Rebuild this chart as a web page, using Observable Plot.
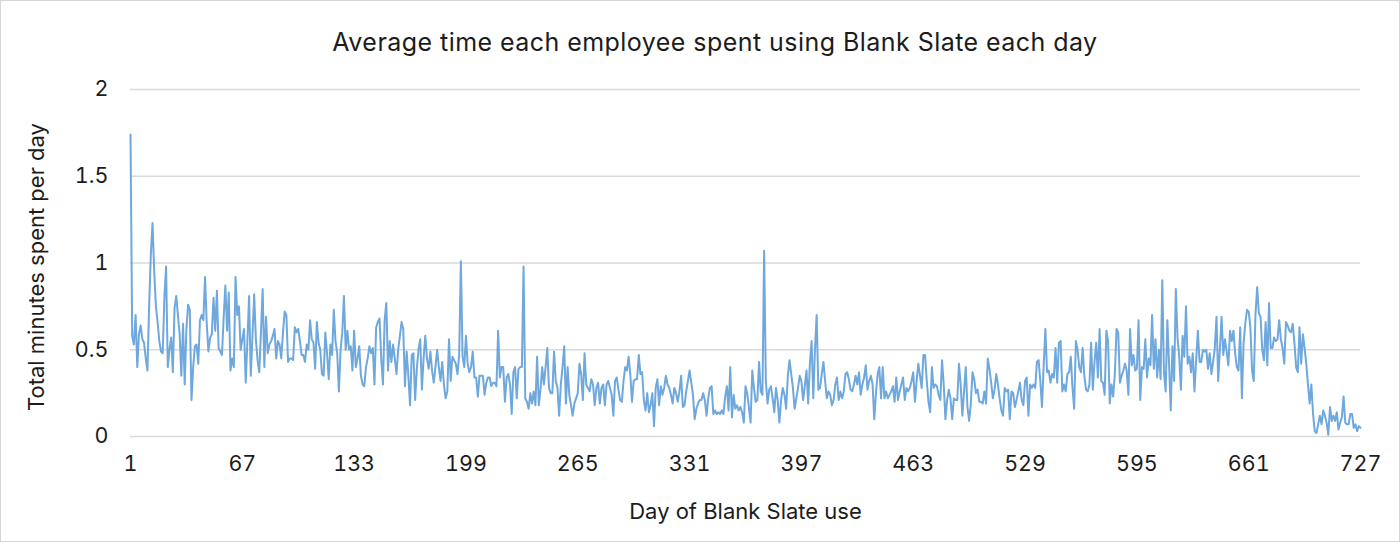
<!DOCTYPE html>
<html>
<head>
<meta charset="utf-8">
<script src="https://cdn.jsdelivr.net/npm/d3@7"></script>
<script src="https://cdn.jsdelivr.net/npm/@observablehq/plot@0.6"></script>
<style>
  html, body { margin: 0; padding: 0; background: #fff; }
  #chart { position: relative; width: 1400px; height: 542px; box-sizing: border-box; border: 1px solid #d6d6d6; background: #fff; overflow: hidden; font-family: Inter, "Noto Sans", sans-serif; }
  #title { position: absolute; top: 27px; left: 0; width: 1398px; box-sizing: border-box; padding-left: 30px; text-align: center; font-size: 25px; letter-spacing: 0.45px; line-height: 28px; color: #1c1c1c; white-space: nowrap; }
  #plot { position: absolute; top: 70px; left: 0; }
</style>
</head>
<body>
<div id="chart">
  <div id="title"></div>
  <div id="plot"></div>
</div>
<script>
const chartTitle = "Average time each employee spent using Blank Slate each day";
const xLabel = "Day of Blank Slate use";
const yLabel = "Total minutes spent per day";
const xTicks = [1, 67, 133, 199, 265, 331, 397, 463, 529, 595, 661, 727];
const yTicks = [0, 0.5, 1, 1.5, 2];

// Days 1–121
const minutesDays1to121 = [
  1.74,0.58,0.53,0.70,0.40,0.59,0.64,0.56,0.54,0.45,
  0.38,0.75,1.05,1.23,0.95,0.75,0.66,0.55,0.49,0.48,
  0.80,0.98,0.40,0.50,0.57,0.37,0.74,0.81,0.70,0.59,
  0.35,0.65,0.30,0.62,0.76,0.73,0.21,0.40,0.52,0.53,
  0.42,0.67,0.70,0.67,0.92,0.65,0.49,0.57,0.59,0.80,
  0.61,0.84,0.51,0.49,0.47,0.69,0.87,0.61,0.83,0.38,
  0.45,0.40,0.92,0.70,0.75,0.50,0.56,0.62,0.31,0.55,
  0.81,0.35,0.58,0.82,0.56,0.44,0.37,0.60,0.85,0.40,
  0.69,0.48,0.53,0.55,0.58,0.62,0.45,0.55,0.53,0.45,
  0.60,0.72,0.70,0.43,0.45,0.45,0.44,0.63,0.60,0.62,
  0.55,0.47,0.47,0.43,0.53,0.50,0.67,0.56,0.54,0.39,
  0.66,0.54,0.50,0.36,0.35,0.60,0.48,0.33,0.53,0.47,
  0.73
];
// Days 122–241
const minutesDays122to241 = [
  0.55,0.48,0.26,0.50,0.60,0.81,0.50,0.61,0.50,0.52,
  0.38,0.61,0.40,0.45,0.52,0.35,0.30,0.29,0.40,0.45,
  0.52,0.48,0.51,0.30,0.63,0.66,0.68,0.45,0.30,0.67,
  0.77,0.38,0.55,0.43,0.53,0.45,0.36,0.50,0.58,0.66,
  0.62,0.29,0.49,0.35,0.18,0.47,0.48,0.21,0.39,0.50,
  0.56,0.27,0.45,0.58,0.45,0.39,0.49,0.38,0.31,0.40,
  0.50,0.40,0.32,0.43,0.30,0.22,0.26,0.56,0.32,0.46,
  0.44,0.42,0.36,0.47,1.01,0.46,0.40,0.58,0.42,0.37,
  0.40,0.49,0.34,0.34,0.23,0.35,0.35,0.35,0.24,0.31,
  0.34,0.34,0.29,0.31,0.31,0.29,0.61,0.34,0.40,0.40,
  0.20,0.34,0.36,0.30,0.13,0.37,0.40,0.22,0.39,0.40,
  0.40,0.98,0.22,0.20,0.16,0.25,0.19,0.26,0.18,0.46
];
// Days 242–364
const minutesDays242to364 = [
  0.18,0.27,0.40,0.30,0.40,0.51,0.28,0.25,0.25,0.49,
  0.32,0.28,0.12,0.30,0.40,0.52,0.19,0.40,0.24,0.18,
  0.12,0.19,0.22,0.25,0.42,0.36,0.21,0.48,0.30,0.28,
  0.26,0.33,0.30,0.18,0.28,0.31,0.19,0.28,0.30,0.18,
  0.30,0.32,0.28,0.24,0.12,0.32,0.34,0.27,0.21,0.20,
  0.32,0.40,0.38,0.46,0.36,0.20,0.32,0.33,0.33,0.47,
  0.36,0.37,0.21,0.15,0.25,0.14,0.18,0.25,0.06,0.28,
  0.33,0.18,0.29,0.24,0.28,0.35,0.30,0.28,0.24,0.19,
  0.28,0.25,0.20,0.26,0.35,0.17,0.18,0.26,0.32,0.38,
  0.31,0.24,0.10,0.16,0.19,0.21,0.21,0.25,0.21,0.12,
  0.22,0.28,0.29,0.13,0.15,0.13,0.14,0.13,0.15,0.13,
  0.23,0.29,0.15,0.40,0.11,0.24,0.16,0.18,0.15,0.17,
  0.14,0.08,0.29
];
// Days 365–484
const minutesDays365to484 = [
  0.25,0.17,0.08,0.38,0.28,0.20,0.21,0.43,0.26,0.24,
  1.07,0.32,0.19,0.27,0.29,0.22,0.14,0.28,0.21,0.08,
  0.21,0.28,0.24,0.16,0.35,0.44,0.36,0.28,0.16,0.22,
  0.28,0.35,0.32,0.21,0.29,0.38,0.19,0.42,0.55,0.22,
  0.50,0.70,0.27,0.28,0.36,0.43,0.32,0.22,0.26,0.24,
  0.18,0.21,0.30,0.34,0.21,0.26,0.22,0.26,0.36,0.37,
  0.33,0.27,0.26,0.30,0.35,0.30,0.37,0.24,0.30,0.34,
  0.41,0.27,0.32,0.35,0.30,0.10,0.25,0.36,0.40,0.22,
  0.40,0.22,0.26,0.22,0.24,0.26,0.29,0.20,0.34,0.21,
  0.26,0.30,0.34,0.21,0.28,0.26,0.28,0.32,0.37,0.20,
  0.32,0.42,0.35,0.28,0.47,0.47,0.32,0.20,0.14,0.40,
  0.28,0.30,0.29,0.24,0.21,0.44,0.30,0.10,0.21,0.27
];
// Days 485–605
const minutesDays485to605 = [
  0.22,0.10,0.22,0.21,0.21,0.42,0.30,0.12,0.26,0.40,
  0.17,0.09,0.19,0.37,0.33,0.25,0.27,0.20,0.20,0.19,
  0.26,0.19,0.45,0.39,0.31,0.22,0.27,0.36,0.30,0.22,
  0.15,0.12,0.28,0.26,0.27,0.10,0.26,0.25,0.17,0.21,
  0.26,0.31,0.21,0.18,0.32,0.34,0.12,0.30,0.28,0.30,
  0.28,0.43,0.44,0.32,0.17,0.41,0.62,0.37,0.38,0.31,
  0.36,0.34,0.51,0.31,0.54,0.55,0.26,0.30,0.26,0.36,
  0.37,0.46,0.28,0.16,0.55,0.50,0.40,0.37,0.51,0.35,
  0.27,0.26,0.30,0.54,0.27,0.43,0.54,0.34,0.62,0.32,
  0.31,0.24,0.61,0.55,0.19,0.30,0.23,0.36,0.62,0.60,
  0.31,0.35,0.38,0.42,0.38,0.24,0.62,0.41,0.47,0.38,
  0.39,0.67,0.21,0.40,0.39,0.56,0.34,0.45,0.41,0.70,
  0.39
];
// Days 606–727
const minutesDays606to727 = [
  0.56,0.34,0.50,0.33,0.90,0.37,0.26,0.67,0.42,0.15,
  0.52,0.32,0.85,0.57,0.46,0.27,0.58,0.46,0.75,0.42,
  0.46,0.37,0.48,0.26,0.44,0.61,0.43,0.43,0.50,0.49,
  0.50,0.39,0.48,0.36,0.43,0.51,0.69,0.32,0.50,0.69,
  0.47,0.56,0.49,0.41,0.61,0.55,0.61,0.48,0.40,0.38,
  0.63,0.22,0.54,0.65,0.73,0.72,0.63,0.38,0.32,0.70,
  0.86,0.71,0.69,0.50,0.44,0.66,0.41,0.77,0.51,0.51,
  0.57,0.55,0.56,0.67,0.56,0.51,0.42,0.66,0.64,0.61,
  0.60,0.65,0.54,0.40,0.37,0.63,0.42,0.59,0.51,0.42,
  0.30,0.19,0.30,0.13,0.03,0.02,0.07,0.12,0.07,0.15,
  0.12,0.08,0.01,0.17,0.09,0.12,0.09,0.14,0.04,0.08,
  0.11,0.23,0.08,0.07,0.07,0.13,0.13,0.05,0.07,0.03,
  0.06,0.05
];

const minutes = [].concat(minutesDays1to121, minutesDays122to241, minutesDays242to364,
  minutesDays365to484, minutesDays485to605, minutesDays606to727);
const rows = minutes.map((v, i) => ({day: i + 1, minutes: v}));

document.getElementById("title").textContent = chartTitle;

const chart = Plot.plot({
  width: 1398,
  height: 470,
  marginLeft: 129,
  marginRight: 39,
  marginTop: 18,
  marginBottom: 105,
  x: {type: "linear", domain: [1, 727]},
  y: {type: "linear", domain: [0, 2]},
  style: {fontFamily: "Inter, 'Noto Sans', sans-serif", fontSize: "21px", color: "#1c1c1c", background: "transparent", overflow: "visible"},
  marks: [
    Plot.gridY(yTicks, {stroke: "#d9d9d9", strokeOpacity: 1, strokeWidth: 1.3}),
    Plot.axisY(yTicks, {tickSize: 0, tickPadding: 22, label: null, fontSize: 21.5, tickFormat: d => String(d)}),
    Plot.axisX(xTicks, {tickSize: 0, tickPadding: 19, label: null, fontSize: 21.5, tickFormat: d => String(d)}),
    Plot.lineY(rows, {x: "day", y: "minutes", stroke: "#6fa8dc", strokeWidth: 2, strokeLinejoin: "round"}),
    Plot.text([yLabel], {frameAnchor: "left", dx: -94, dy: 4, rotate: -90, textAnchor: "middle", fontSize: 22, lineAnchor: "middle", fill: "#1c1c1c"}),
    Plot.text([xLabel], {frameAnchor: "bottom", dy: 75, fontSize: 22, lineAnchor: "middle", fill: "#1c1c1c"})
  ]
});
document.getElementById("plot").appendChild(chart);
</script>
</body>
</html>
